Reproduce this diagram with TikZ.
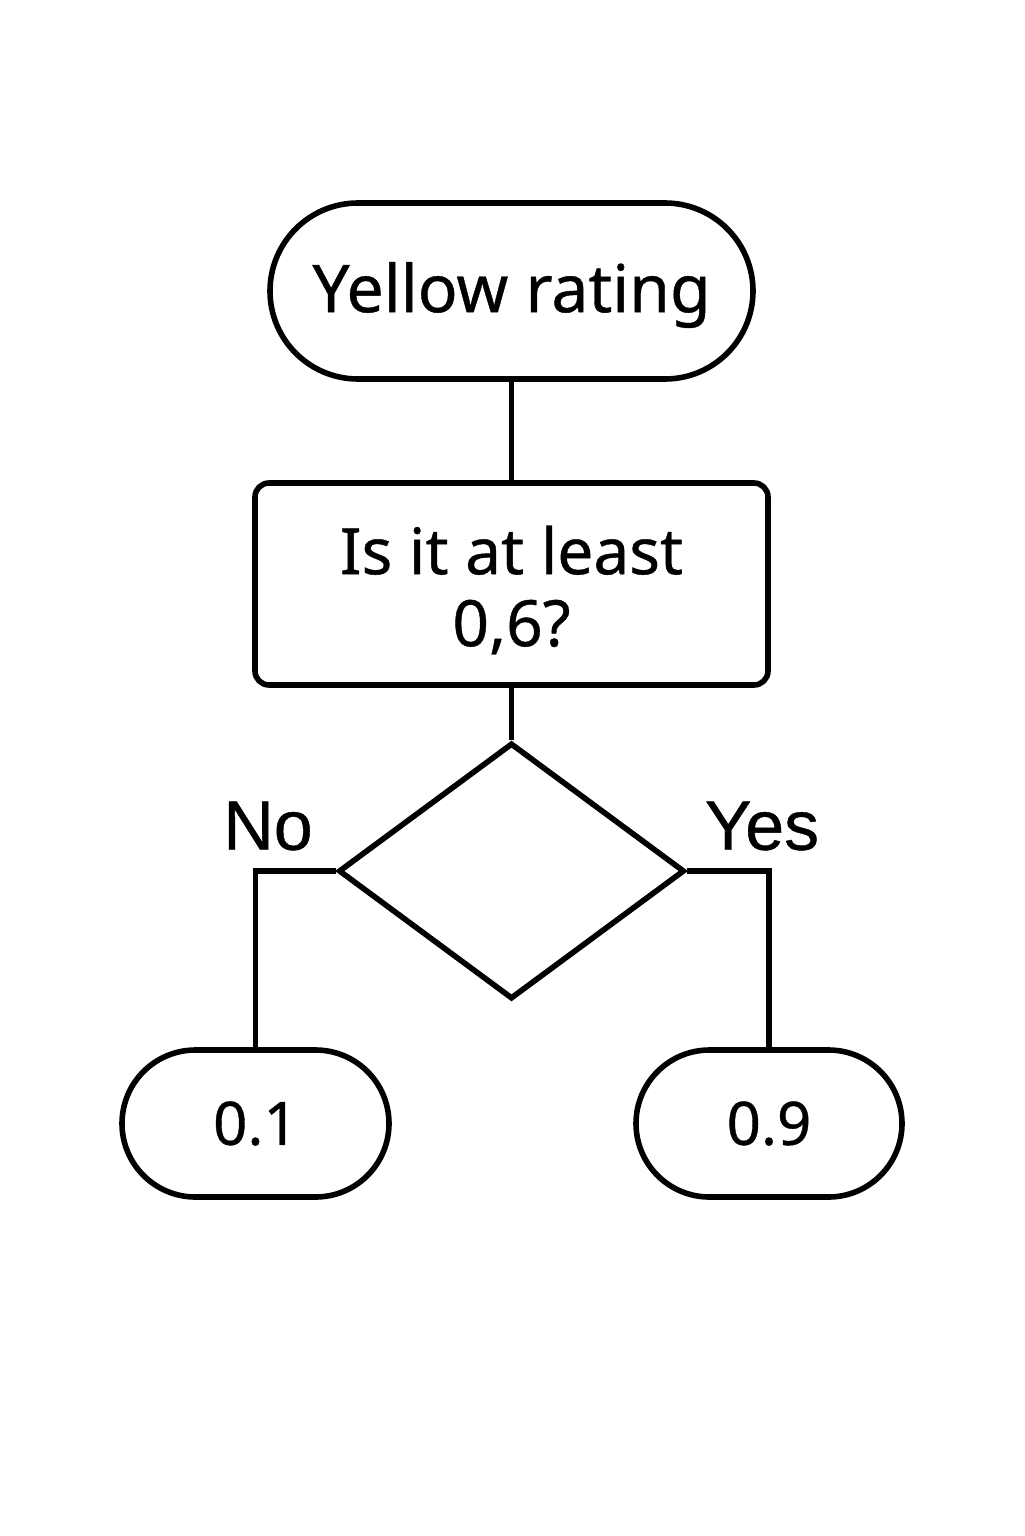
\documentclass[tikz,border=0pt]{standalone}
\usepackage{fontspec}
\setmainfont{Noto Sans}[BoldFont=Noto Sans,BoldFeatures={FakeBold=0.6}]
\newfontfamily\labfont{Liberation Sans}[BoldFont=Liberation Sans,BoldFeatures={FakeBold=0.6}]
\usetikzlibrary{shapes.geometric}
\begin{document}
\begin{tikzpicture}[x=0.5pt,y=-0.5pt,
  stadium/.style={draw,line width=2.8pt,rounded corners=#1,inner sep=0pt},
  qbox/.style={draw,line width=2.8pt,rounded corners=7pt,inner sep=0pt,minimum width=256.5pt,minimum height=101pt,align=center},
  dia/.style={draw,diamond,line width=2.8pt,inner sep=0pt,minimum width=173pt,minimum height=128pt,miter limit=10},
  conn/.style={line width=2.8pt,line join=miter},
  lab/.style={font=\labfont\bfseries\fontsize{35}{40}\selectfont,inner sep=0pt}
]
\useasboundingbox (0,0) rectangle (1024,1536);
\node[stadium=44pt,minimum width=241.5pt,minimum height=88pt] (top) at (511.5,291) {};
\node[font=\bfseries\fontsize{33}{40}\selectfont,inner sep=0pt] (toplab) at (511.5,295) {Yellow rating};
\node[qbox] (q) at (511.5,584) {};
\node[font=\bfseries\fontsize{32}{36}\selectfont,align=center,inner sep=0pt] (qlab) at (511.5,590) {Is it at least\\0,6?};
\node[dia] (d) at (511.5,871) {};
\node[stadium=36.75pt,minimum width=133.5pt,minimum height=73.5pt,font=\bfseries\fontsize{30}{36}\selectfont] (no) at (255.5,1123.5) {0.1};
\node[stadium=36.75pt,minimum width=133pt,minimum height=73.5pt,font=\bfseries\fontsize{30}{36}\selectfont] (yes) at (769,1123.5) {0.9};
\node[lab] (nol) at (268,826) {No};
\node[lab] (yesl) at (762,826) {Yes};
\draw[conn] (top.south) -- (q.north);
\draw[conn] (q.south) -- (d.north);
\draw[conn] (d.west) -| (no.north);
\draw[conn] (d.east) -| (yes.north);
\end{tikzpicture}
\end{document}
